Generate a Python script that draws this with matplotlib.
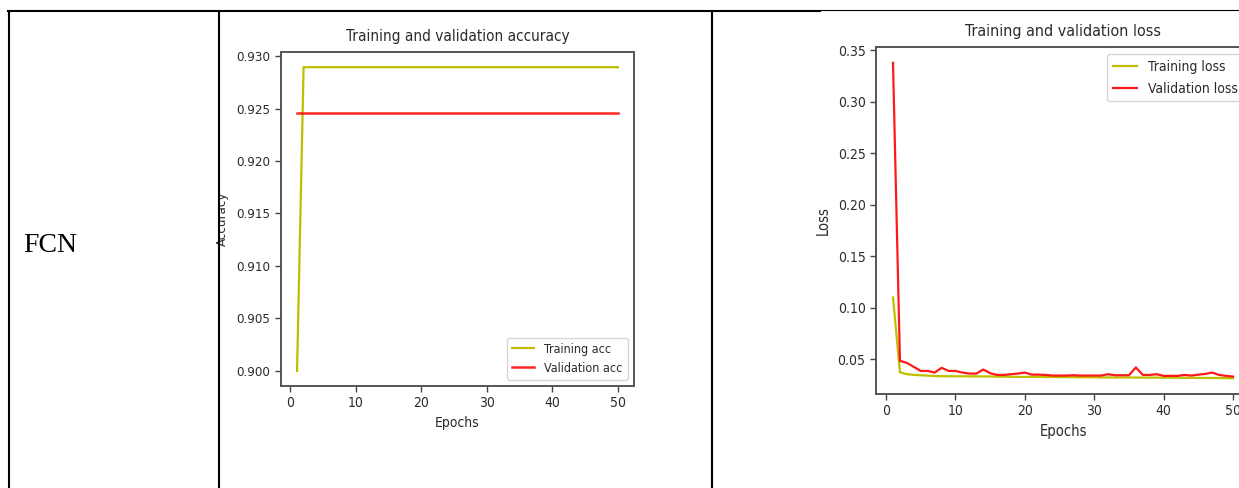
import numpy as np
import matplotlib
matplotlib.use('Agg')
import matplotlib.pyplot as plt
from matplotlib.lines import Line2D

W, H = 1239, 488

# accuracy history (FCN)
epochs = np.arange(1, 51)
train_acc = [0.9000] + [0.92895] * 49
val_acc = [0.92458] * 50

# loss history (FCN)
train_loss = [0.110, 0.0373, 0.0354, 0.0348, 0.0344, 0.0340, 0.0336, 0.0335, 0.0334, 0.0334,
              0.0334, 0.0333, 0.0333, 0.0332, 0.0332, 0.0330, 0.0329, 0.0329, 0.0328, 0.0328,
              0.0328, 0.0328, 0.0327, 0.0327, 0.0326, 0.0326, 0.0325, 0.0325, 0.0325, 0.0324,
              0.0323, 0.0323, 0.0322, 0.0322, 0.0322, 0.0322, 0.0321, 0.0321, 0.0321, 0.0320,
              0.0320, 0.0320, 0.0319, 0.0319, 0.0318, 0.0318, 0.0318, 0.0317, 0.0316, 0.0315]
val_loss = [0.338, 0.0484, 0.0464, 0.0425, 0.0386, 0.0386, 0.0370, 0.0416, 0.0386, 0.0386,
            0.0370, 0.0360, 0.0360, 0.0400, 0.0364, 0.0347, 0.0347, 0.0354, 0.0360, 0.0370,
            0.0350, 0.0350, 0.0347, 0.0341, 0.0341, 0.0341, 0.0344, 0.0341, 0.0341, 0.0341,
            0.0341, 0.0354, 0.0344, 0.0344, 0.0344, 0.0420, 0.0347, 0.0347, 0.0354, 0.0338,
            0.0338, 0.0338, 0.0347, 0.0341, 0.0350, 0.0357, 0.0370, 0.0347, 0.0338, 0.0331]

TXT = '#2b2b2b'
plt.rcParams['font.family'] = ['DejaVu Sans']
plt.rcParams['font.stretch'] = 'condensed'
plt.rcParams['text.color'] = TXT
plt.rcParams['axes.labelcolor'] = TXT
plt.rcParams['xtick.color'] = '#444444'
plt.rcParams['ytick.color'] = '#444444'
plt.rcParams['xtick.labelcolor'] = TXT
plt.rcParams['ytick.labelcolor'] = TXT

fig = plt.figure(figsize=(W / 100, H / 100), dpi=100)


def px_axes(x0, y0, x1, y1):
    # pixel box (top-left origin) -> figure axes
    return fig.add_axes([x0 / W, 1 - y1 / H, (x1 - x0) / W, (y1 - y0) / H])


def style(ax):
    for s in ax.spines.values():
        s.set_color('#555555')
        s.set_linewidth(1.4)
    ax.tick_params(labelsize=10, length=4, width=1.0)


def hline(x0, x1, y, lw):
    fig.add_artist(Line2D([x0 / W, x1 / W], [1 - y / H, 1 - y / H],
                          transform=fig.transFigure, color='black', lw=lw))


def vline(x, y0, y1, lw):
    fig.add_artist(Line2D([x / W, x / W], [1 - y0 / H, 1 - y1 / H],
                          transform=fig.transFigure, color='black', lw=lw))


# table frame
hline(8, 820, 11, 1.5)
hline(820, 1239, 10, 0.8)
vline(9, 11, 488, 1.5)
vline(219, 11, 488, 1.5)
vline(712, 11, 488, 1.5)
fig.text(23 / W, 1 - 245 / H, 'FCN', family='Liberation Serif', fontsize=20,
         color='black', va='center', ha='left', stretch='normal')

# accuracy plot
ax1 = px_axes(281, 52, 634, 386)
ax1.plot(epochs, train_acc, color='y', lw=1.6, label='Training acc')
ax1.plot(epochs, val_acc, color='r', lw=1.8, alpha=0.85, label='Validation acc')
ax1.set_title('Training and validation accuracy', fontsize=11, pad=8)
ax1.set_xlabel('Epochs', fontsize=10)
ax1.set_ylabel('Accuracy', fontsize=9.5)
ax1.yaxis.set_label_coords(-0.148, 0.5)
ax1.set_xticks([0, 10, 20, 30, 40, 50])
ax1.legend(loc='lower right', fontsize=9, handlelength=1.8)
style(ax1)
ax1.tick_params(axis='y', labelsize=9.5)

# loss plot
ax2 = px_axes(876, 47, 1250, 394)
ax2.plot(epochs, train_loss, color='y', lw=1.6, label='Training loss')
ax2.plot(epochs, val_loss, color='r', lw=1.6, alpha=0.9, label='Validation loss')
ax2.set_title('Training and validation loss', fontsize=11.5, pad=8)
ax2.set_xlabel('Epochs', fontsize=10.5)
ax2.set_ylabel('Loss', fontsize=10.5)
ax2.yaxis.set_label_coords(-0.12, 0.5)
ax2.set_xticks([0, 10, 20, 30, 40, 50])
ax2.legend(loc='upper right', fontsize=10, handlelength=1.7, labelspacing=0.6)
style(ax2)

fig.savefig('out.png', dpi=100)
